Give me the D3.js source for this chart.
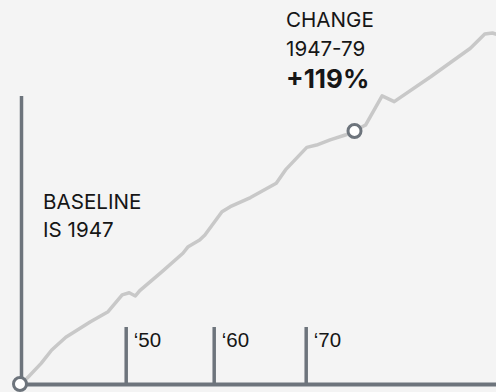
<!DOCTYPE html>
<html>
<head>
<meta charset="utf-8">
<script src="https://cdn.jsdelivr.net/npm/d3@7"></script>
<style>
  html, body { margin: 0; padding: 0; background: #f4f4f4; }
  svg { display: block; font-family: Inter, "Noto Sans", sans-serif; }
</style>
</head>
<body>
<svg id="chart" width="496" height="392"></svg>
<script>
// Cumulative change since the 1947 baseline, in percent
const years = [1947.0, 1947.2, 1947.6, 1947.9, 1948.3, 1949.0, 1949.5, 1949.9,
  1950.4, 1951.1, 1951.6, 1954.1, 1956.5, 1957.1, 1958.4, 1959.0,
  1960.9, 1961.8, 1964.0, 1966.8, 1967.8, 1970.2, 1972.0, 1974.5, 1977.3,
  1979.0, 1980.0, 1981.5, 1982.6, 1985.9, 1989.5, 1990.8, 1991.5, 1992.0];
const change = [0, 2.7, 9.7, 16.0, 22.0, 29.3, 34.0, 41.9,
  42.9, 41.4, 43.9, 52.7, 61.5, 64.6, 67.7, 70.1,
  81.0, 83.4, 87.7, 94.4, 100.7, 111.3, 112.4, 114.8, 117.1,
  119, 121.8, 135.5, 132.8, 144.5, 157.9, 164.6, 165.1, 164.2];

const tickYears = [1950, 1960, 1970];
const baseYear = 1947;
const markYear = 1979;
const markChange = 119;
const axisTopValue = 135.5;

const svg = d3.select("#chart");
const axisColor = "#6d747c";

// Decade ticks are spaced for readability, so the year axis is piecewise
const x = d3.scaleLinear()
  .domain([1947, 1950, 1960, 1970, 1979, 1992])
  .range([20, 125.7, 213.7, 305.7, 354.5, 498]);
const y = d3.scaleLinear().domain([0, markChange]).range([384, 131]);

// Horizontal axis with upward ticks
const xAxis = svg.append("g")
  .attr("transform", `translate(0,${y(0)})`)
  .call(d3.axisBottom(x)
    .tickValues(tickYears)
    .tickSizeInner(-57)
    .tickSizeOuter(0)
    .tickFormat(d => "\u2018" + String(d).slice(2)));
xAxis.select(".domain")
  .attr("stroke", axisColor).attr("stroke-width", 4);
xAxis.selectAll(".tick line")
  .attr("stroke", axisColor).attr("stroke-width", 3.5);
xAxis.selectAll(".tick text")
  .attr("fill", "#161616")
  .attr("font-size", 20.5)
  .attr("text-anchor", "start")
  .attr("x", 7.6)
  .attr("y", -37.5)
  .attr("dy", null);

// Vertical baseline axis
svg.append("line")
  .attr("x1", x(baseYear) + 1.5).attr("x2", x(baseYear) + 1.5)
  .attr("y1", y(0)).attr("y2", y(axisTopValue))
  .attr("stroke", axisColor).attr("stroke-width", 3.5);

// Series line
const line = d3.line()
  .x((d, i) => x(years[i]))
  .y(d => y(d));
svg.append("path")
  .datum(change)
  .attr("d", line)
  .attr("fill", "none")
  .attr("stroke", "#c8c8c8")
  .attr("stroke-width", 3.5)
  .attr("stroke-linejoin", "round")
  .attr("stroke-linecap", "round");

// Baseline and 1979 markers
svg.selectAll("circle.mark")
  .data([[baseYear, 0], [markYear, markChange]])
  .join("circle")
  .attr("class", "mark")
  .attr("cx", d => x(d[0]))
  .attr("cy", d => y(d[1]))
  .attr("r", 6.5)
  .attr("fill", "#ffffff")
  .attr("stroke", axisColor)
  .attr("stroke-width", 3);

// Annotations
const note = svg.append("g").attr("fill", "#161616").attr("font-size", 20.6);
note.append("text").attr("x", 43).attr("y", 209).text("BASELINE");
note.append("text").attr("x", 43).attr("y", 236.5).text("IS " + baseYear);
note.append("text").attr("x", 286).attr("y", 26.5).text("CHANGE");
note.append("text").attr("x", 286).attr("y", 56).text(baseYear + "-" + String(markYear).slice(2));
note.append("text").attr("x", 286).attr("y", 88)
  .attr("font-size", 26).attr("font-weight", 700)
  .text("+" + markChange + "%");
</script>
</body>
</html>
